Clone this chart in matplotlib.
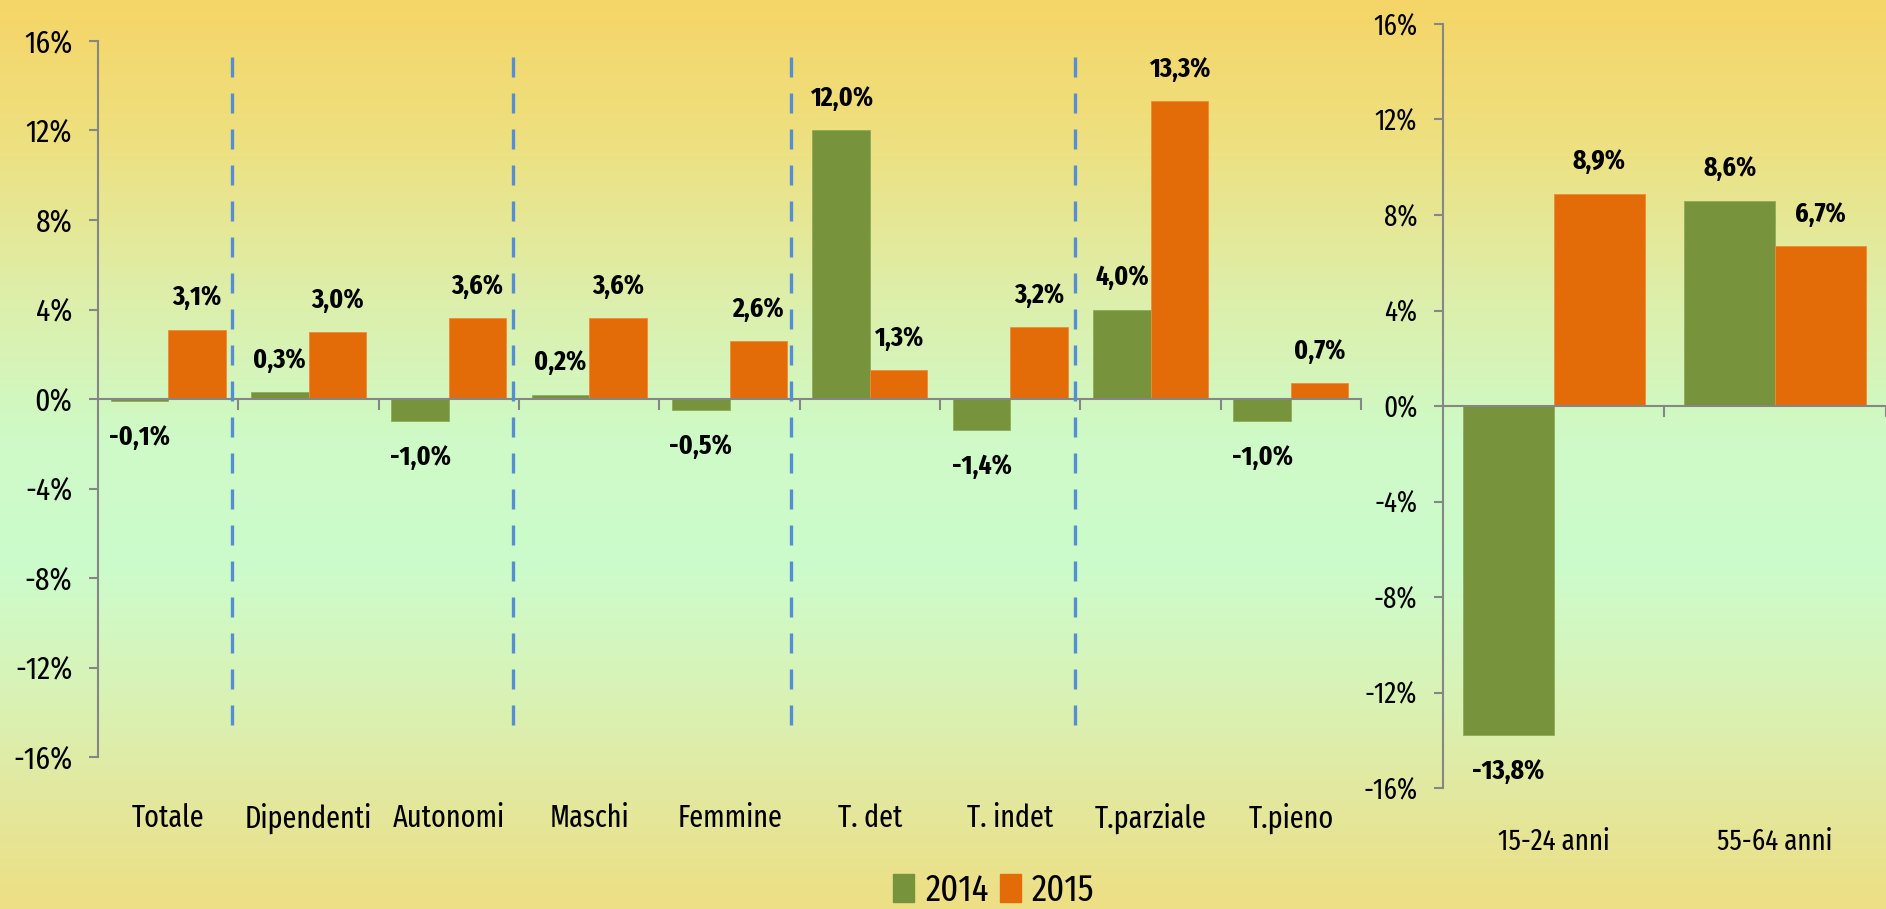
## Variazione occupati 2014/2015 - grafico a barre con due pannelli
import numpy as np
import matplotlib.pyplot as plt
from matplotlib.colors import LinearSegmentedColormap
from matplotlib.patches import Patch
import matplotlib.transforms as mtransforms

plt.rcParams['font.family'] = ['Fira Sans Extra Condensed', 'Archivo Narrow',
                               'Liberation Sans', 'DejaVu Sans']

## Dati
categorie = ['Totale', 'Dipendenti', 'Autonomi', 'Maschi', 'Femmine',
             'T. det', 'T. indet', 'T.parziale', 'T.pieno']
val_2014 = [-0.1, 0.3, -1.0, 0.2, -0.5, 12.0, -1.4, 4.0, -1.0]
val_2015 = [3.1, 3.0, 3.6, 3.6, 2.6, 1.3, 3.2, 13.3, 0.7]

eta = ['15-24 anni', '55-64 anni']
eta_2014 = [-13.8, 8.6]
eta_2015 = [8.9, 6.7]

anni = ['2014', '2015']
yticks = [-16, -12, -8, -4, 0, 4, 8, 12, 16]

VERDE = '#77933C'
ARANCIO = '#E36C09'
GRIGIO = '#868686'
BLU = '#558ED5'

fig = plt.figure(figsize=(18.86, 9.09), dpi=100)

## Sfondo sfumato (arancio in alto, verde chiaro, giallo in basso)
bg = fig.add_axes([0, 0, 1, 1], zorder=-5)
cmap = LinearSegmentedColormap.from_list('bg', [
    (0.00, '#F5D567'), (0.15, '#EEE07F'), (0.33, '#DDEFAB'),
    (0.48, '#CEFAC6'), (0.62, '#CCFCCC'), (0.76, '#D8F3B6'),
    (0.88, '#E3E89E'), (1.00, '#EDDF84')])
bg.imshow(np.linspace(0, 1, 256).reshape(-1, 1), aspect='auto', cmap=cmap,
          extent=[0, 1, 0, 1], origin='upper')
bg.axis('off')


def fmt(v):
    return ('%.1f%%' % v).replace('.', ',')


def pannello(ax, labels, s14, s15, xmax, tick_fs, lab_fs, lab_y):
    x = np.arange(len(labels))
    w = 0.41
    ax.bar(x - w / 2, s14, w, color=VERDE, edgecolor='#8FAA5A', linewidth=0.6, zorder=2)
    ax.bar(x + w / 2, s15, w, color=ARANCIO, edgecolor='#F08A3A', linewidth=0.6, zorder=2)
    for xs, vals in ((x - w / 2, s14), (x + w / 2, s15)):
        for xi, v in zip(xs, vals):
            off = 23 if v >= 0 else -26
            ax.annotate(fmt(v), (xi, v), xytext=(0, off), textcoords='offset points',
                        ha='center', va='center', fontsize=20, fontweight='bold')
    ax.set_xlim(-0.5, xmax)
    ax.set_ylim(-16, 16)
    ax.set_facecolor('none')
    ax.set_yticks(yticks)
    ax.set_yticklabels(['%d%%' % t for t in yticks], fontsize=tick_fs)
    ax.set_xticks(np.arange(len(labels)) + 0.5)
    ax.set_xticklabels([])
    ax.tick_params(axis='y', length=6.5, width=1.5, color=GRIGIO, pad=12)
    ax.tick_params(axis='x', length=8, width=1.5, color=GRIGIO, direction='out')
    ax.spines['bottom'].set_position(('data', 0))
    for s in ('top', 'right'):
        ax.spines[s].set_visible(False)
    for s in ('left', 'bottom'):
        ax.spines[s].set_color(GRIGIO)
        ax.spines[s].set_linewidth(1.5)
    ax.spines['left'].set_zorder(3)
    trans = mtransforms.blended_transform_factory(ax.transData, ax.transAxes)
    for xi, lab in zip(x, labels):
        ax.text(xi, lab_y, lab, transform=trans, ha='center', va='center', fontsize=lab_fs)


## Pannello sinistro
ax1 = fig.add_axes([0.0520, 0.1672, 0.6697, 0.7877])
pannello(ax1, categorie, val_2014, val_2015, 8.5, 23, 22, -0.085)
ax1.vlines([0.455, 2.46, 4.435, 6.46], -14.57, 15.5, colors=BLU, linewidth=2.4,
           linestyles=(0, (6.0, 4.8)), zorder=4, clip_on=False)

## Pannello destro
ax2 = fig.add_axes([0.7651, 0.1331, 0.2349, 0.8405])
pannello(ax2, eta, eta_2014, eta_2015, -0.5 + 443 / 224, 21, 21, -0.0707)

## Legenda
handles = [Patch(color=VERDE, label=anni[0]), Patch(color=ARANCIO, label=anni[1])]
fig.legend(handles=handles, loc='center', bbox_to_anchor=(0.527, 0.02), ncol=2,
           frameon=False, fontsize=27, handlelength=0.55, handleheight=0.75,
           handletextpad=0.3, columnspacing=0.3, borderpad=0)

fig.savefig('out.png', dpi=100)
